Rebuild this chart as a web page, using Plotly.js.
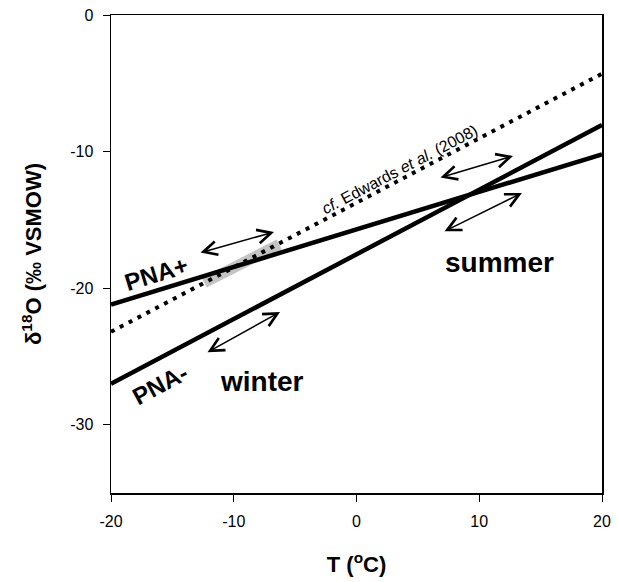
<!DOCTYPE html>
<html>
<head>
<meta charset="utf-8">
<script src="https://cdn.plot.ly/plotly-3.0.1.min.js"></script>
<style>html,body{margin:0;padding:0;background:#fff;}#chart{width:618px;height:582px;}</style>
</head>
<body>
<div id="chart"></div>
<script>
// Temperature extent (°C)
const tempRange = [-20, 20];
// δ18O regression lines (‰ VSMOW) at tempRange ends
const pnaPlus = [-21.2, -10.2];
const pnaMinus = [-27.0, -8.05];
const edwards2008 = [-23.2, -4.3];
// Grey highlighted segment
const bandT = [-12.4, -6.3];
const bandD18O = [-19.6, -16.8];
// Double-headed arrows: [t1, d1, t2, d2]
const arrowSegs = [
  [-12.83, -17.43, -6.72, -15.89],
  [-12.26, -24.75, -6.23, -21.75],
  [6.72, -11.94, 12.75, -10.32],
  [7.05, -15.89, 13.48, -13.03]
];
// Labels
const labelText = ['PNA+', 'PNA-', 'winter', 'summer', '<i>cf.</i> Edwards <i>et al.</i> (2008)'];
const labelT = [-16.3, -16.0, -7.66, 11.69, 3.5];
const labelD = [-18.96, -27.09, -26.8, -18.1, -11.3];
const labelAngle = [-17, -28, 0, 0, -27.7];
const labelSize = [24, 24, 28, 28, 16];
const labelBold = [true, true, true, true, false];
const xTicks = [-20, -10, 0, 10, 20];
const xTickText = ['-20', '-10', '0', '10', '20'];
const yTicks = [0, -10, -20, -30];
const yTickText = ['0', '-10', '-20', '-30'];

const FONT = 'Liberation Sans, Arial, Helvetica, sans-serif';

const traces = [
  {x: bandT, y: bandD18O, mode: 'lines', line: {color: '#c4c4c4', width: 11}, hoverinfo: 'skip'},
  {x: tempRange, y: edwards2008, mode: 'lines', line: {color: '#000', width: 4, dash: '4px,6px'}, hoverinfo: 'skip'},
  {x: tempRange, y: pnaPlus, mode: 'lines', line: {color: '#000', width: 4.5}, hoverinfo: 'skip'},
  {x: tempRange, y: pnaMinus, mode: 'lines', line: {color: '#000', width: 4.5}, hoverinfo: 'skip'}
];

const annotations = [];
arrowSegs.forEach(s => {
  annotations.push({
    x: s[2], y: s[3], ax: s[0], ay: s[1],
    xref: 'x', yref: 'y', axref: 'x', ayref: 'y',
    text: '', showarrow: true, arrowside: 'end+start',
    arrowhead: 5, startarrowhead: 5, arrowsize: 1.8, startarrowsize: 1.8,
    arrowwidth: 1.5, arrowcolor: '#000', standoff: 0, startstandoff: 0
  });
});
labelText.forEach((t, i) => {
  annotations.push({
    x: labelT[i], y: labelD[i], xref: 'x', yref: 'y',
    text: labelBold[i] ? '<b>' + t + '</b>' : t,
    showarrow: false, textangle: labelAngle[i],
    xanchor: 'center', yanchor: 'middle',
    font: {family: FONT, size: labelSize[i], color: '#000'}
  });
});

const layout = {
  width: 618, height: 582,
  margin: {l: 111, r: 16, t: 15, b: 89},
  paper_bgcolor: '#fff', plot_bgcolor: '#fff',
  showlegend: false,
  font: {family: FONT, size: 16, color: '#000'},
  xaxis: {
    range: tempRange, tickvals: xTicks, ticktext: xTickText, ticks: 'outside', ticklen: 7, tickwidth: 1, tickcolor: '#000',
    showline: true, linewidth: 1.5, linecolor: '#000', mirror: true,
    showgrid: false, zeroline: false, ticklabelstandoff: 6,
    title: {text: '<b>T (<sup>o</sup>C)</b>', font: {family: FONT, size: 22}, standoff: 28}
  },
  yaxis: {
    range: [-35, 0], tickvals: yTicks, ticktext: yTickText, ticks: 'outside', ticklen: 7, tickwidth: 1, tickcolor: '#000',
    showline: true, linewidth: 1.5, linecolor: '#000', mirror: true,
    showgrid: false, zeroline: false, ticklabelstandoff: 6,
    title: {text: '<b>δ<sup>18</sup>O (‰ VSMOW)</b>', font: {family: FONT, size: 22}, standoff: 22}
  },
  annotations: annotations
};

Plotly.newPlot('chart', traces, layout, {staticPlot: true, displayModeBar: false});
</script>
</body>
</html>
